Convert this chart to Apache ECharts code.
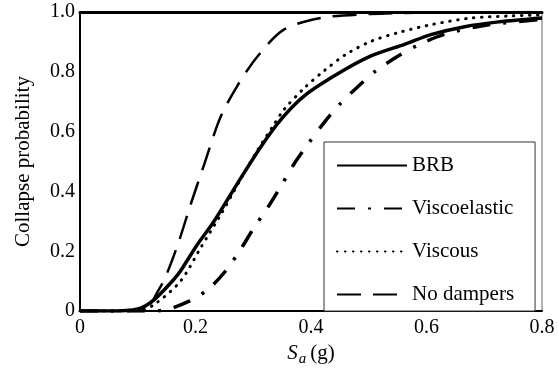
<!DOCTYPE html>
<html>
<head>
<meta charset="utf-8">
<script src="https://cdn.jsdelivr.net/npm/echarts@6/dist/echarts.min.js"></script>
<style>
  html, body { margin: 0; padding: 0; background: #fff; }
  #chart { width: 558px; height: 372px; }
</style>
</head>
<body>
<div id="chart"></div>
<script>
const xTicks = [0, 0.2, 0.4, 0.6, 0.8]
const yTicks = [0, 0.2, 0.4, 0.6, 0.8, 1.0]

const brbSa = [0, 0.05, 0.1, 0.127, 0.162, 0.174, 0.203, 0.231, 0.273, 0.313, 0.35, 0.388, 0.447, 0.504, 0.562, 0.609, 0.666, 0.725, 0.8]
const brbP = [0, 0, 0.007, 0.036, 0.105, 0.134, 0.222, 0.297, 0.428, 0.549, 0.645, 0.719, 0.794, 0.853, 0.892, 0.925, 0.951, 0.967, 0.98]

const viscoelasticSa = [0, 0.05, 0.1, 0.144, 0.19, 0.223, 0.252, 0.278, 0.301, 0.325, 0.348, 0.37, 0.395, 0.421, 0.449, 0.482, 0.513, 0.551, 0.588, 0.631, 0.7, 0.8]
const viscoelasticP = [0, 0, 0, 0.003, 0.034, 0.075, 0.134, 0.206, 0.278, 0.346, 0.418, 0.49, 0.559, 0.626, 0.69, 0.752, 0.804, 0.853, 0.892, 0.925, 0.955, 0.975]

const viscousSa = [0, 0.05, 0.1, 0.127, 0.174, 0.209, 0.243, 0.275, 0.308, 0.333, 0.353, 0.388, 0.423, 0.461, 0.504, 0.551, 0.609, 0.678, 0.748, 0.8]
const viscousP = [0, 0, 0.002, 0.02, 0.1, 0.212, 0.32, 0.43, 0.54, 0.615, 0.673, 0.745, 0.804, 0.859, 0.902, 0.931, 0.958, 0.98, 0.987, 0.99]

const noDampersSa = [0, 0.05, 0.1, 0.12, 0.133, 0.148, 0.171, 0.191, 0.215, 0.243, 0.273, 0.308, 0.353, 0.417, 0.5, 0.6, 0.8]
const noDampersP = [0, 0, 0.002, 0.02, 0.06, 0.114, 0.232, 0.353, 0.49, 0.647, 0.755, 0.853, 0.941, 0.98, 0.993, 0.998, 1.0]

const seriesNames = ["BRB", "Viscoelastic", "Viscous", "No dampers"]

function pairs(xs, ys) {
  return xs.map((x, i) => [x, ys[i]])
}

function tickLabel(v) {
  return v === 0 ? "0" : v.toFixed(1)
}

const serif = "Liberation Serif"
const chart = echarts.init(document.getElementById("chart"))

const option = {
  animation: false,
  backgroundColor: "#fff",
  grid: {
    left: 80,
    right: 16,
    top: 12,
    bottom: 54,
    show: true,
    borderColor: "#666",
    borderWidth: 1,
  },
  legend: {
    orient: "vertical",
    left: 324,
    top: 142,
    itemWidth: 70,
    itemHeight: 21,
    itemGap: 22,
    padding: [13, 21, 6, 12],
    borderColor: "#333",
    borderWidth: 1,
    backgroundColor: "#fff",
    // hide the circle marker, keep only the line sample
    itemStyle: { opacity: 0 },
    textStyle: { fontFamily: serif, fontSize: 21, color: "#000", padding: [0, 0, 0, 0] },
    data: seriesNames,
  },
  xAxis: [
    {
      type: "value",
      min: 0,
      max: 0.8,
      interval: 0.2,
      name: "{s|S}{sub|a}{g|(g)}",
      nameLocation: "middle",
      nameGap: 27,
      nameTextStyle: {
        rich: {
          s: { fontFamily: serif, fontSize: 21, color: "#000", fontStyle: "italic" },
          sub: { fontFamily: serif, fontSize: 15, color: "#000", fontStyle: "italic", verticalAlign: "bottom", padding: [12, 4, 0, 1] },
          g: { fontFamily: serif, fontSize: 21, color: "#000" },
        },
      },
      axisLine: { lineStyle: { color: "#000", width: 2 } },
      axisTick: { show: false },
      splitLine: { show: false },
      axisLabel: { fontFamily: serif, fontSize: 20, color: "#000", margin: 7, formatter: tickLabel },
    },
    {
      type: "value",
      position: "top",
      min: 0,
      max: 0.8,
      interval: 0.2,
      axisLine: { show: true, lineStyle: { color: "#000", width: 3 } },
      axisTick: { show: false },
      axisLabel: { show: false },
      splitLine: { show: false },
    },
  ],
  yAxis: {
    type: "value",
    min: 0,
    max: 1,
    interval: 0.2,
    name: "Collapse probability",
    nameLocation: "middle",
    nameGap: 46,
    nameTextStyle: { fontFamily: serif, fontSize: 21, color: "#000" },
    axisLine: { show: true, lineStyle: { color: "#000", width: 2 } },
    axisTick: { show: false },
    splitLine: { show: false },
    axisLabel: { fontFamily: serif, fontSize: 20, color: "#000", margin: 5, formatter: tickLabel },
  },
  series: [
    {
      name: seriesNames[0],
      type: "line",
      data: pairs(brbSa, brbP),
      smooth: 0.3,
      symbol: "none",
      lineStyle: { color: "#000", width: 3.5, type: "solid" },
      itemStyle: { color: "#000" },
      z: 4,
    },
    {
      name: seriesNames[1],
      type: "line",
      data: pairs(viscoelasticSa, viscoelasticP),
      smooth: 0.3,
      symbol: "none",
      lineStyle: { color: "#000", width: 3.5, type: [18, 13, 3, 13] },
      itemStyle: { color: "#000" },
      z: 3,
    },
    {
      name: seriesNames[2],
      type: "line",
      data: pairs(viscousSa, viscousP),
      smooth: 0.3,
      symbol: "none",
      lineStyle: { color: "#000", width: 3, type: [0.5, 7.5], cap: "round" },
      itemStyle: { color: "#000" },
      z: 3,
    },
    {
      name: seriesNames[3],
      type: "line",
      data: pairs(noDampersSa, noDampersP),
      smooth: 0.3,
      symbol: "none",
      lineStyle: { color: "#000", width: 2.5, type: [24, 12] },
      itemStyle: { color: "#000" },
      z: 3,
    },
  ],
}

chart.setOption(option)
</script>
</body>
</html>
